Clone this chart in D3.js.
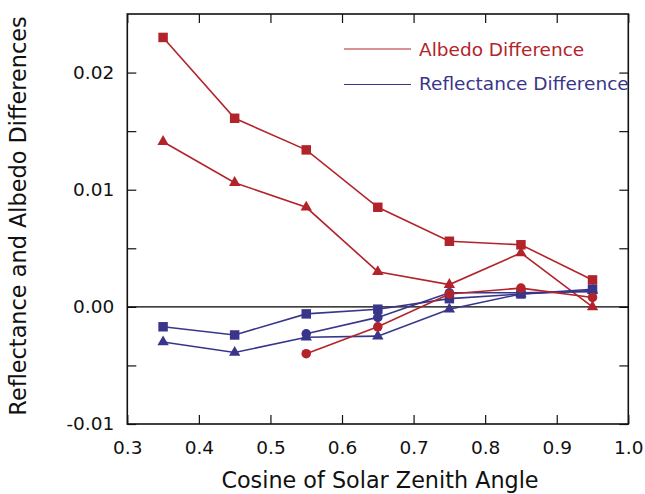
<!DOCTYPE html>
<html>
<head>
<meta charset="utf-8">
<script src="https://cdn.jsdelivr.net/npm/d3@7"></script>
<style>
  body { margin: 0; background: #fff; }
  svg { display: block; font-family: "DejaVu Sans", sans-serif; }
</style>
</head>
<body>
<svg id="chart" width="645" height="494"></svg>
<script>
// cosine of solar zenith angle
var mu = [0.35, 0.45, 0.55, 0.65, 0.75, 0.85, 0.95];
var muShort = [0.55, 0.65, 0.75, 0.85, 0.95];

// albedo differences (red)
var albedoSquares   = [0.0230, 0.0161, 0.0134, 0.0085, 0.0056, 0.0053, 0.0023];
var albedoTriangles = [0.0141, 0.0106, 0.0085, 0.0030, 0.0019, 0.0046, 0.0000];
var albedoCircles   = [-0.0040, -0.0017, 0.0011, 0.0016, 0.0008];

// reflectance differences (blue)
var reflSquares   = [-0.0017, -0.0024, -0.0006, -0.0002, 0.0007, 0.0011, 0.0015];
var reflTriangles = [-0.0030, -0.0039, -0.0026, -0.0025, -0.0002, 0.0011, 0.0014];
var reflCircles   = [-0.0023, -0.0009, 0.0012, 0.0012, 0.0013];

var xTicks = [0.3, 0.4, 0.5, 0.6, 0.7, 0.8, 0.9, 1.0];
var yTicks = [-0.01, 0.00, 0.01, 0.02];
var yMinor = [-0.005, 0.005, 0.015];

var legendItems = ["Albedo Difference", "Reflectance Difference"];

var RED = "#b2242a", BLUE = "#39358a";

var svg = d3.select("#chart");
var pLeft = 127.3, pRight = 628.3, pTop = 14, pBottom = 424;

var x = d3.scaleLinear().domain([0.3, 1.0]).range([pLeft, pRight]);
var y = d3.scaleLinear().domain([-0.01, 0.025]).range([pBottom, pTop]);

// ticks (all inward)
var g = svg.append("g");
g.append("g").attr("transform", "translate(0," + pBottom + ")")
  .call(d3.axisBottom(x).tickValues(xTicks).tickSize(-9).tickPadding(17).tickFormat(function(d){ return d.toFixed(1); }));
g.append("g").attr("transform", "translate(0," + pTop + ")")
  .call(d3.axisTop(x).tickValues(xTicks).tickSize(-9).tickFormat(""));
g.append("g").attr("transform", "translate(" + pLeft + ",0)")
  .call(d3.axisLeft(y).tickValues(yTicks).tickSize(-9).tickPadding(13).tickFormat(function(d){ return d.toFixed(2); }));
g.append("g").attr("transform", "translate(" + pLeft + ",0)")
  .call(d3.axisLeft(y).tickValues(yMinor).tickSize(-9).tickFormat(""));
g.append("g").attr("transform", "translate(" + pRight + ",0)")
  .call(d3.axisRight(y).tickValues(yTicks.concat(yMinor)).tickSize(-9).tickFormat(""));

g.selectAll(".domain").remove();
g.selectAll(".tick line").attr("stroke", "#111").attr("stroke-width", 1.2);
g.selectAll(".tick text").attr("font-size", 18.5).attr("fill", "#111")
  .attr("font-family", "DejaVu Sans");

// frame
svg.append("rect")
  .attr("x", pLeft).attr("y", pTop)
  .attr("width", pRight - pLeft).attr("height", pBottom - pTop)
  .attr("fill", "none").attr("stroke", "#111").attr("stroke-width", 1.6);

// zero line
svg.append("line")
  .attr("x1", pLeft).attr("x2", pRight)
  .attr("y1", y(0)).attr("y2", y(0))
  .attr("stroke", "#000").attr("stroke-width", 1.2);

var line = d3.line().x(function(d){ return x(d[0]); }).y(function(d){ return y(d[1]); });

function series(xs, ys, color, shape, size) {
  var pts = d3.zip(xs, ys);
  svg.append("path").datum(pts)
    .attr("d", line).attr("fill", "none")
    .attr("stroke", color).attr("stroke-width", 1.6);
  svg.append("g").selectAll("path").data(pts).enter().append("path")
    .attr("transform", function(d){ return "translate(" + x(d[0]) + "," + y(d[1]) + ")"; })
    .attr("d", d3.symbol().type(shape).size(size))
    .attr("fill", color);
}

series(mu, albedoSquares, RED, d3.symbolSquare, 90);
series(mu, albedoTriangles, RED, d3.symbolTriangle, 56);
series(mu, reflTriangles, BLUE, d3.symbolTriangle, 56);
series(mu, reflSquares, BLUE, d3.symbolSquare, 90);
series(muShort, reflCircles, BLUE, d3.symbolCircle, 72);
series(muShort, albedoCircles, RED, d3.symbolCircle, 72);

// legend
var legend = svg.append("g");
var legendRows = [
  { label: legendItems[0], color: RED, ly: 49, ty: 56 },
  { label: legendItems[1], color: BLUE, ly: 84.5, ty: 89.5 }
];
legendRows.forEach(function(r){
  legend.append("line")
    .attr("x1", 344).attr("x2", 411).attr("y1", r.ly).attr("y2", r.ly)
    .attr("stroke", r.color).attr("stroke-width", 1);
  legend.append("text")
    .attr("x", 419).attr("y", r.ty)
    .attr("font-size", 18.5).attr("fill", r.color)
    .text(r.label);
});

// axis titles
svg.append("text")
  .attr("x", 380).attr("y", 488)
  .attr("text-anchor", "middle").attr("font-size", 22.3).attr("fill", "#111")
  .text("Cosine of Solar Zenith Angle");

svg.append("text")
  .attr("transform", "translate(26,216) rotate(-90)")
  .attr("text-anchor", "middle").attr("font-size", 22.4).attr("fill", "#111")
  .text("Reflectance and Albedo Differences");
</script>
</body>
</html>
